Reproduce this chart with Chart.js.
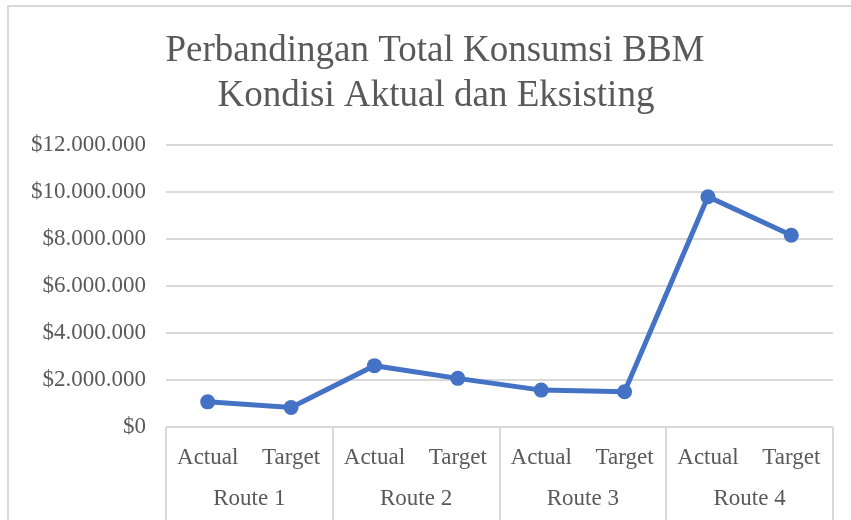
<!DOCTYPE html>
<html>
<head>
<meta charset="utf-8">
<script src="https://cdn.jsdelivr.net/npm/chart.js@4.4.1/dist/chart.umd.min.js"></script>
<style>
html,body{margin:0;padding:0;background:#fff;}
#wrap{width:851px;height:520px;position:relative;}
</style>
</head>
<body>
<div id="wrap"><canvas id="c" width="851" height="520"></canvas></div>
<script>
// ---- data ----
const routes = ['Route 1', 'Route 2', 'Route 3', 'Route 4'];
const conditions = ['Actual', 'Target'];
const fuelCost = [1070000, 830000, 2610000, 2070000, 1570000, 1500000, 9800000, 8160000];
const titleLines = ['Perbandingan Total Konsumsi BBM', 'Kondisi Aktual dan Eksisting'];
const yTicks = [0, 2000000, 4000000, 6000000, 8000000, 10000000, 12000000];

const labels = [];
routes.forEach(() => conditions.forEach(c => labels.push(c)));

const FONT = "'Liberation Serif', 'Times New Roman', serif";
const TXT = '#595959';
const GRID = '#d9d9d9';

function fmt(v) {
  return '$' + String(Math.round(v)).replace(/\B(?=(\d{3})+(?!\d))/g, '.');
}

const decor = {
  id: 'decor',
  beforeDraw(chart) {
    const ctx = chart.ctx;
    ctx.save();
    ctx.strokeStyle = GRID;
    ctx.lineWidth = 2;
    ctx.beginPath();
    ctx.moveTo(8, 520);
    ctx.lineTo(8, 6);
    ctx.lineTo(851, 6);
    ctx.stroke();
    ctx.restore();
  },
  afterDraw(chart) {
    const ctx = chart.ctx;
    const a = chart.chartArea;
    const x = chart.scales.x;
    ctx.save();
    // title
    ctx.fillStyle = TXT;
    ctx.font = '37px ' + FONT;
    ctx.textAlign = 'center';
    ctx.textBaseline = 'middle';
    ctx.fillText(titleLines[0], 435, 51);
    ctx.fillText(titleLines[1], 436, 96);
    // group separators & labels
    const per = conditions.length;
    ctx.strokeStyle = GRID;
    ctx.lineWidth = 2;
    for (let g = 0; g <= routes.length; g++) {
      let px;
      if (g === 0) px = a.left;
      else if (g === routes.length) px = a.right;
      else px = (x.getPixelForValue(g * per - 1) + x.getPixelForValue(g * per)) / 2;
      ctx.beginPath();
      ctx.moveTo(Math.round(px), a.bottom);
      ctx.lineTo(Math.round(px), 520);
      ctx.stroke();
    }
    ctx.font = '23px ' + FONT;
    ctx.fillStyle = TXT;
    routes.forEach((r, g) => {
      const cx = (x.getPixelForValue(g * per) + x.getPixelForValue(g * per + per - 1)) / 2;
      ctx.fillText(r, cx, 499);
    });
    ctx.restore();
  }
};

new Chart(document.getElementById('c'), {
  type: 'line',
  data: {
    labels: labels,
    datasets: [{
      data: fuelCost,
      borderColor: '#4472C4',
      backgroundColor: '#4472C4',
      borderWidth: 5,
      pointRadius: 7.5,
      pointHoverRadius: 7.5,
      pointBorderWidth: 0,
      tension: 0
    }]
  },
  options: {
    responsive: false,
    animation: false,
    layout: { padding: { top: 145, left: 0, right: 18, bottom: 0 } },
    plugins: { legend: { display: false }, title: { display: false }, tooltip: { enabled: false } },
    scales: {
      x: {
        offset: true,
        grid: { display: false, drawTicks: false },
        border: { display: false },
        ticks: { color: TXT, font: { family: FONT, size: 23 }, padding: 17, maxRotation: 0, autoSkip: false },
        afterFit(s) { s.height = 93; }
      },
      y: {
        min: 0, max: 12000000,
        afterBuildTicks(s) { s.ticks = yTicks.map(v => ({ value: v })); },
        grid: { color: GRID, lineWidth: 2, drawTicks: false },
        border: { display: false },
        ticks: { color: TXT, font: { family: FONT, size: 23 }, padding: 20, callback: v => fmt(v) },
        afterFit(s) { s.width = 166; }
      }
    }
  },
  plugins: [decor]
});
</script>
</body>
</html>
